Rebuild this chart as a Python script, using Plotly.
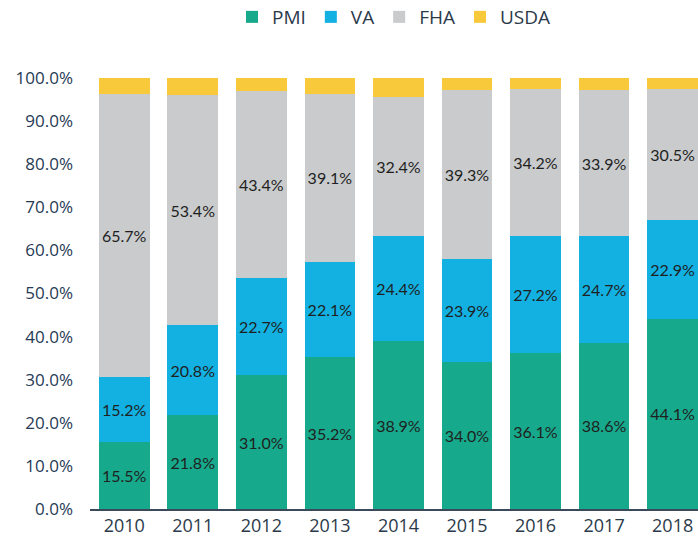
import plotly.graph_objects as go

years = ["2010", "2011", "2012", "2013", "2014", "2015", "2016", "2017", "2018"]
pmi = [15.5, 21.8, 31.0, 35.2, 38.9, 34.0, 36.1, 38.6, 44.1]
va = [15.2, 20.8, 22.7, 22.1, 24.4, 23.9, 27.2, 24.7, 22.9]
fha = [65.7, 53.4, 43.4, 39.1, 32.4, 39.3, 34.2, 33.9, 30.5]
usda = [3.6, 4.0, 2.9, 3.6, 4.3, 2.8, 2.5, 2.8, 2.5]

series = [
    ("PMI", pmi, "#17a98b", True),
    ("VA", va, "#12b1e2", True),
    ("FHA", fha, "#c9cbcc", True),
    ("USDA", usda, "#f9c93c", False),
]

fig = go.Figure()
for name, vals, color, show in series:
    fig.add_trace(go.Bar(
        x=years, y=vals, name=name,
        marker=dict(color=color, line=dict(width=0)),
        text=[f"{v:.1f}%" for v in vals] if show else None,
        textposition="inside" if show else "none",
        insidetextanchor="middle",
        textangle=0,
        constraintext="none",
        textfont=dict(family="Lato, Open Sans, sans-serif", size=16, color="#1f1f1f"),
        hoverinfo="skip",
    ))

fig.update_layout(
    barmode="stack",
    bargap=0.26,
    width=698, height=544,
    margin=dict(l=90, r=0, t=78, b=35, autoexpand=False),
    paper_bgcolor="white", plot_bgcolor="white",
    showlegend=True,
    legend=dict(orientation="h", x=0.5, xanchor="center", y=1.1415, yanchor="middle",
                font=dict(family="Open Sans, sans-serif", size=19, color="#2b3a4a"),
                traceorder="normal", itemwidth=30),
    font=dict(family="Open Sans, sans-serif"),
)
fig.update_xaxes(range=[-0.5, 8.37], showgrid=False, showline=True, linecolor="#3b4a5a", linewidth=1.5,
                 ticks="", tickfont=dict(family="Open Sans, sans-serif", size=18, color="#2b3a4a"))
fig.update_yaxes(range=[0, 100], showgrid=False, zeroline=False, showline=False,
                 tickvals=[0, 10, 20, 30, 40, 50, 60, 70, 80, 90, 100],
                 ticktext=[f"{v:.1f}%" for v in range(0, 101, 10)],
                 ticklabelstandoff=16,
                 tickfont=dict(family="Open Sans, sans-serif", size=17, color="#263a55"))

fig.write_html("out.html", config={"displayModeBar": False},
               post_script="document.body.style.margin='0';document.body.style.overflow='hidden';")
